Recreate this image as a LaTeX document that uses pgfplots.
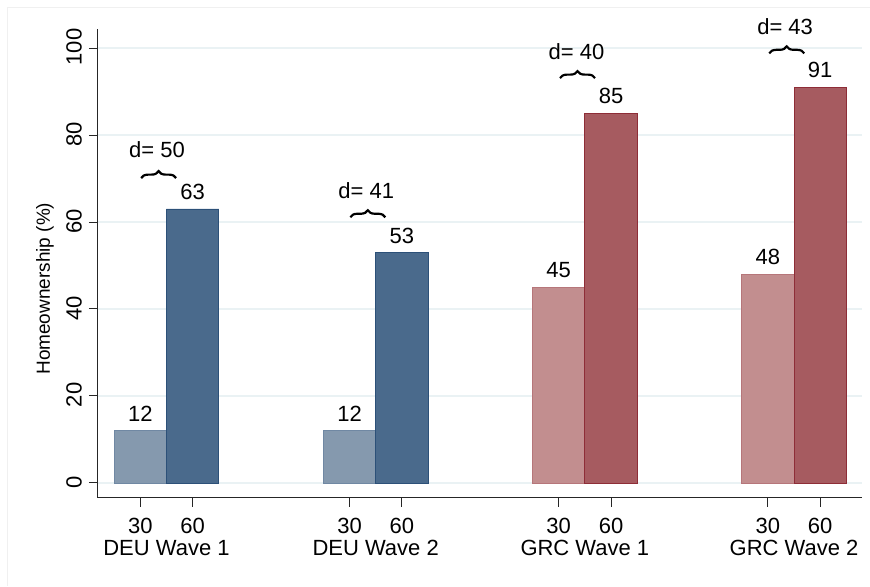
\documentclass[border=0pt]{standalone}
\usepackage{fontspec}
\setmainfont{Liberation Sans}
\usepackage{pgfplots}
\pgfplotsset{compat=1.18}
\usetikzlibrary{decorations.pathreplacing}

\definecolor{dblue}{RGB}{74,106,140}
\definecolor{dbluee}{RGB}{44,80,120}
\definecolor{lblue}{RGB}{133,153,174}
\definecolor{lbluee}{RGB}{112,136,163}
\definecolor{dred}{RGB}{166,91,96}
\definecolor{drede}{RGB}{142,45,55}
\definecolor{lred}{RGB}{194,142,143}
\definecolor{lrede}{RGB}{182,118,122}
\definecolor{gridc}{RGB}{234,242,244}
\definecolor{framec}{RGB}{240,240,240}

\newcommand{\fsz}{\fontsize{11}{13}\selectfont}

\begin{document}
\begin{tikzpicture}
% fixed page size (870x586 px at 0.5pt/px)
\path (-49pt,-44pt) rectangle (386pt,249pt);
\draw[framec, line width=0.5pt] (-45pt,-44pt) -- (-45pt,245pt) -- (386pt,245pt);
\begin{axis}[
  at={(0,0)}, anchor=south west,
  scale only axis, width=382pt, height=234.5pt,
  xmin=-1.31, xmax=13.29, ymin=-3.4, ymax=104.4,
  axis x line*=bottom, axis y line*=left,
  axis line style={black!85, line width=0.5pt, -},
  xtick={-0.5,0.5,3.5,4.5,7.5,8.5,11.5,12.5},
  xticklabels={30,60,30,60,30,60,30,60},
  ytick={0,20,40,60,80,100},
  tick align=outside, major tick length=4.5pt,
  tick style={black!85, line width=0.5pt},
  ymajorgrids, grid style={gridc, line width=0.7pt},
  /pgf/number format/assume math mode=true,
  tick label style={font=\fsz},
  xticklabel style={yshift=-2pt},
  yticklabel style={rotate=90, anchor=south, xshift=0.5pt},
  ylabel={Homeownership (\%)},
  ylabel style={font=\fontsize{9.5}{11}\selectfont, at={(axis description cs:-0.0694,0.446)}, anchor=center},
  clip=false,
  every node near coord/.style={font=\fsz, anchor=center, yshift=8.5pt, text=black},
]
\addplot[ybar, bar width=1, fill=lblue, draw=lbluee, nodes near coords] coordinates {(-0.5,12) (3.5,12)};
\addplot[ybar, bar width=1, fill=dblue, draw=dbluee, nodes near coords] coordinates {(0.5,63) (4.5,53)};
\addplot[ybar, bar width=1, fill=lred, draw=lrede, nodes near coords] coordinates {(7.5,45) (11.5,48)};
\addplot[ybar, bar width=1, fill=dred, draw=drede, nodes near coords] coordinates {(8.5,85) (12.5,91)};

% group labels
\node[font=\fsz] at ([yshift=-25pt]axis cs:0,-3.4) {DEU Wave 1};
\node[font=\fsz] at ([yshift=-25pt]axis cs:4,-3.4) {DEU Wave 2};
\node[font=\fsz] at ([yshift=-25pt]axis cs:8,-3.4) {GRC Wave 1};
\node[font=\fsz] at ([yshift=-25pt]axis cs:12,-3.4) {GRC Wave 2};

% differences
\node[font=\fsz] at (axis cs:-0.18,76.6) {d=\ 50};
\node[font=\fsz] at (axis cs:3.82,67.2) {d=\ 41};
\node[font=\fsz] at (axis cs:7.84,99.1) {d=\ 40};
\node[font=\fsz] at (axis cs:11.83,104.9) {d=\ 43};
\draw[decorate, decoration={brace, amplitude=3.5pt}, line width=1.1pt]
  ([xshift=-8.75pt]axis cs:-0.15,70.1) -- ([xshift=8.75pt]axis cs:-0.15,70.1);
\draw[decorate, decoration={brace, amplitude=3.5pt}, line width=1.1pt]
  ([xshift=-8.75pt]axis cs:3.85,61.1) -- ([xshift=8.75pt]axis cs:3.85,61.1);
\draw[decorate, decoration={brace, amplitude=3.5pt}, line width=1.1pt]
  ([xshift=-8.75pt]axis cs:7.86,93.1) -- ([xshift=8.75pt]axis cs:7.86,93.1);
\draw[decorate, decoration={brace, amplitude=3.5pt}, line width=1.1pt]
  ([xshift=-8.75pt]axis cs:11.86,98.8) -- ([xshift=8.75pt]axis cs:11.86,98.8);
\end{axis}
\end{tikzpicture}
\end{document}
